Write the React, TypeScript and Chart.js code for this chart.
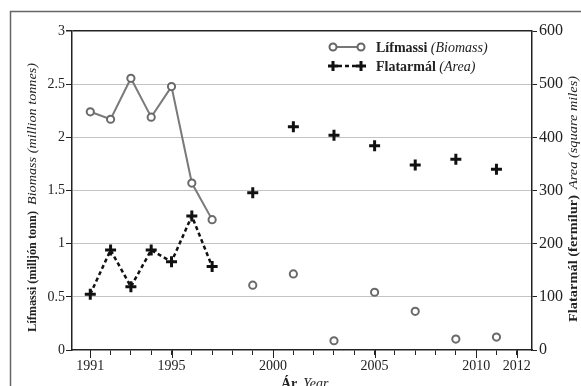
import React, { useEffect, useRef } from "react";
import { Chart, registerables } from "chart.js";

Chart.register(...registerables);

// ---- data ----
const years = [1991, 1992, 1993, 1994, 1995, 1996, 1997, 1999, 2001, 2003, 2005, 2007, 2009, 2011];
const biomassValues = [2.24, 2.17, 2.555, 2.19, 2.477, 1.57, 1.226, 0.61, 0.715, 0.087, 0.543, 0.364, 0.103, 0.122];
const areaValues = [105, 188, 119, 188, 166, 252, 157, 296, 420, 404, 384, 348, 359, 340];
const lastConnectedYear = 1997;
const xTickYears = [1991, 1992, 1993, 1994, 1995, 1996, 1997, 1998, 1999, 2000, 2001, 2002, 2003, 2004, 2005, 2006, 2007, 2008, 2009, 2010, 2011, 2012];
const xLabelYears = [1991, 1995, 2000, 2005, 2010, 2012];

const SERIF = "'Liberation Serif', 'Times New Roman', Times, serif";

function fitText(ctx: CanvasRenderingContext2D, text: string, font: string, x: number, y: number, target: number) {
  ctx.font = font;
  const w = ctx.measureText(text).width;
  const sx = w > 0 ? target / w : 1;
  ctx.save();
  ctx.translate(x, y);
  ctx.scale(sx, 1);
  ctx.fillText(text, 0, 0);
  ctx.restore();
}

function drawVerticalTitle(
  ctx: CanvasRenderingContext2D,
  baselineX: number,
  parts: { text: string; font: string; from: number; to: number }[]
) {
  ctx.save();
  ctx.translate(baselineX, 0);
  ctx.rotate(-Math.PI / 2);
  ctx.textAlign = "left";
  ctx.textBaseline = "alphabetic";
  ctx.fillStyle = "#222";
  for (const p of parts) {
    fitText(ctx, p.text, p.font, -p.from, 0, p.from - p.to);
  }
  ctx.restore();
}

const decorPlugin = {
  id: "decor",
  afterDraw(chart: any) {
    const ctx: CanvasRenderingContext2D = chart.ctx;
    const { bottom } = chart.chartArea;
    ctx.save();
    // outer frame
    ctx.strokeStyle = "#666";
    ctx.lineWidth = 1.5;
    ctx.beginPath();
    ctx.moveTo(10.5, 390);
    ctx.lineTo(10.5, 11.5);
    ctx.lineTo(590, 11.5);
    ctx.stroke();

    // longer ticks at labelled years
    const xs = chart.scales.x;
    ctx.strokeStyle = "#222";
    ctx.lineWidth = 1;
    for (const yv of xLabelYears) {
      const px = Math.round(xs.getPixelForValue(yv)) + 0.5;
      ctx.beginPath();
      ctx.moveTo(px, bottom);
      ctx.lineTo(px, bottom + 8);
      ctx.stroke();
    }

    // axis titles
    drawVerticalTitle(ctx, 36, [
      { text: "Lífmassi (milljón tonn)", font: `bold 12px ${SERIF}`, from: 332, to: 211 },
      { text: "Biomass (million tonnes)", font: `italic 13.5px ${SERIF}`, from: 205, to: 63 },
    ]);
    drawVerticalTitle(ctx, 577, [
      { text: "Flatarmál (fermílur)", font: `bold 13px ${SERIF}`, from: 322, to: 195 },
      { text: "Area (square miles)", font: `italic 13.5px ${SERIF}`, from: 189, to: 76 },
    ]);

    // x title
    ctx.fillStyle = "#222";
    ctx.textBaseline = "alphabetic";
    ctx.textAlign = "left";
    ctx.font = `bold 14px ${SERIF}`;
    ctx.fillText("Ár", 281, 388);
    const wA = ctx.measureText("Ár").width;
    ctx.font = `italic 14px ${SERIF}`;
    ctx.fillText("Year", 281 + wA + 6, 388);

    // legend
    const rows = [
      { y: 47, bold: "Lífmassi", ital: "(Biomass)", kind: "bio" },
      { y: 66, bold: "Flatarmál", ital: "(Area)", kind: "area" },
    ];
    for (const r of rows) {
      const x1 = 333, x2 = 361;
      if (r.kind === "bio") {
        ctx.strokeStyle = "#777";
        ctx.lineWidth = 2;
        ctx.setLineDash([]);
        ctx.beginPath();
        ctx.moveTo(x1 + 4, r.y);
        ctx.lineTo(x2 - 4, r.y);
        ctx.stroke();
        for (const cx of [x1, x2]) {
          ctx.beginPath();
          ctx.arc(cx, r.y, 3.5, 0, Math.PI * 2);
          ctx.fillStyle = "#fff";
          ctx.fill();
          ctx.strokeStyle = "#666";
          ctx.lineWidth = 2;
          ctx.stroke();
        }
      } else {
        ctx.strokeStyle = "#111";
        ctx.lineWidth = 2.5;
        ctx.setLineDash([4, 3]);
        ctx.beginPath();
        ctx.moveTo(x1 + 5, r.y);
        ctx.lineTo(x2 - 5, r.y);
        ctx.stroke();
        ctx.setLineDash([]);
        ctx.lineWidth = 3;
        for (const cx of [x1, x2]) {
          ctx.beginPath();
          ctx.moveTo(cx - 5, r.y);
          ctx.lineTo(cx + 5, r.y);
          ctx.moveTo(cx, r.y - 5);
          ctx.lineTo(cx, r.y + 5);
          ctx.stroke();
        }
      }
      ctx.fillStyle = "#222";
      ctx.textBaseline = "middle";
      ctx.font = `bold 14px ${SERIF}`;
      ctx.fillText(r.bold, 376, r.y + 1);
      const wb = ctx.measureText(r.bold + " ").width;
      ctx.font = `italic 14px ${SERIF}`;
      ctx.fillText(r.ital, 376 + wb, r.y + 1);
    }
    ctx.restore();
  },
};

export default function App() {
  const ref = useRef<HTMLCanvasElement | null>(null);

  useEffect(() => {
    if (!ref.current) return;
    const bioData = years.map((x, i) => ({ x, y: biomassValues[i] }));
    const areaData = years.map((x, i) => ({ x, y: areaValues[i] }));

    const chart = new Chart(ref.current, {
      type: "line",
      data: {
        datasets: [
          {
            label: "Lífmassi (Biomass)",
            data: bioData,
            yAxisID: "y",
            borderColor: "#7a7a7a",
            borderWidth: 2,
            pointStyle: "circle",
            pointRadius: 3.6,
            pointBorderWidth: 2,
            pointBorderColor: "#6a6a6a",
            pointBackgroundColor: "#fff",
            tension: 0,
            fill: false,
            segment: {
              borderColor: (c: any) => (c.p0.parsed.x >= lastConnectedYear ? "rgba(0,0,0,0)" : undefined),
            },
          },
          {
            label: "Flatarmál (Area)",
            data: areaData,
            yAxisID: "y1",
            borderColor: "#111",
            borderWidth: 2.5,
            borderDash: [4, 3],
            pointStyle: "cross",
            pointRadius: 5.5,
            pointBorderWidth: 3,
            pointBorderColor: "#111",
            tension: 0,
            fill: false,
            segment: {
              borderColor: (c: any) => (c.p0.parsed.x >= lastConnectedYear ? "rgba(0,0,0,0)" : undefined),
            },
          },
        ],
      },
      options: {
        animation: false,
        responsive: false,
        maintainAspectRatio: false,
        layout: { padding: { top: 31, left: 0, right: 0, bottom: 0 } },
        plugins: {
          legend: { display: false },
          tooltip: { enabled: false },
        },
        scales: {
          x: {
            type: "linear",
            min: 1990.1,
            max: 2012.75,
            afterBuildTicks: (scale: any) => {
              scale.ticks = xTickYears.map((v) => ({ value: v }));
            },
            afterFit: (scale: any) => {
              scale.height = 36;
            },
            ticks: {
              autoSkip: false,
              maxRotation: 0,
              minRotation: 0,
              padding: 3,
              color: "#222",
              font: { family: SERIF, size: 14 },
              callback: (v: any) => (xLabelYears.includes(Number(v)) ? String(v) : ""),
            },
            grid: {
              display: true,
              drawOnChartArea: false,
              drawTicks: true,
              tickLength: 5,
              tickColor: "#222",
            },
            border: { display: true, color: "#222", width: 1.5 },
          },
          y: {
            type: "linear",
            position: "left",
            min: 0,
            max: 3,
            afterFit: (scale: any) => {
              scale.width = 72;
            },
            ticks: {
              stepSize: 0.5,
              padding: 1,
              color: "#222",
              font: { family: SERIF, size: 14 },
              callback: (v: any) => String(Number(v)),
            },
            grid: {
              drawOnChartArea: true,
              drawTicks: true,
              tickLength: 6,
              tickColor: "#222",
              color: (c: any) => (c.tick && c.tick.value === 3 ? "#222" : c.tick && c.tick.value === 0 ? "rgba(0,0,0,0)" : "#c4c4c4"),
              lineWidth: (c: any) => (c.tick && c.tick.value === 3 ? 1.5 : 1),
            },
            border: { display: true, color: "#222", width: 1.5 },
          },
          y1: {
            type: "linear",
            position: "right",
            min: 0,
            max: 600,
            afterFit: (scale: any) => {
              scale.width = 49;
            },
            ticks: {
              stepSize: 100,
              padding: 2,
              color: "#222",
              font: { family: SERIF, size: 16 },
              callback: (v: any) => String(Number(v)),
            },
            grid: {
              drawOnChartArea: false,
              drawTicks: true,
              tickLength: 5,
              tickColor: "#222",
            },
            border: { display: true, color: "#222", width: 1.5 },
          },
        },
      },
      plugins: [decorPlugin],
    } as any);

    return () => chart.destroy();
  }, []);

  return (
    <div style={{ position: "absolute", left: 0, top: 0, width: 581, height: 386, background: "#fff" }}>
      <canvas ref={ref} width={581} height={386} style={{ display: "block" }} />
    </div>
  );
}
